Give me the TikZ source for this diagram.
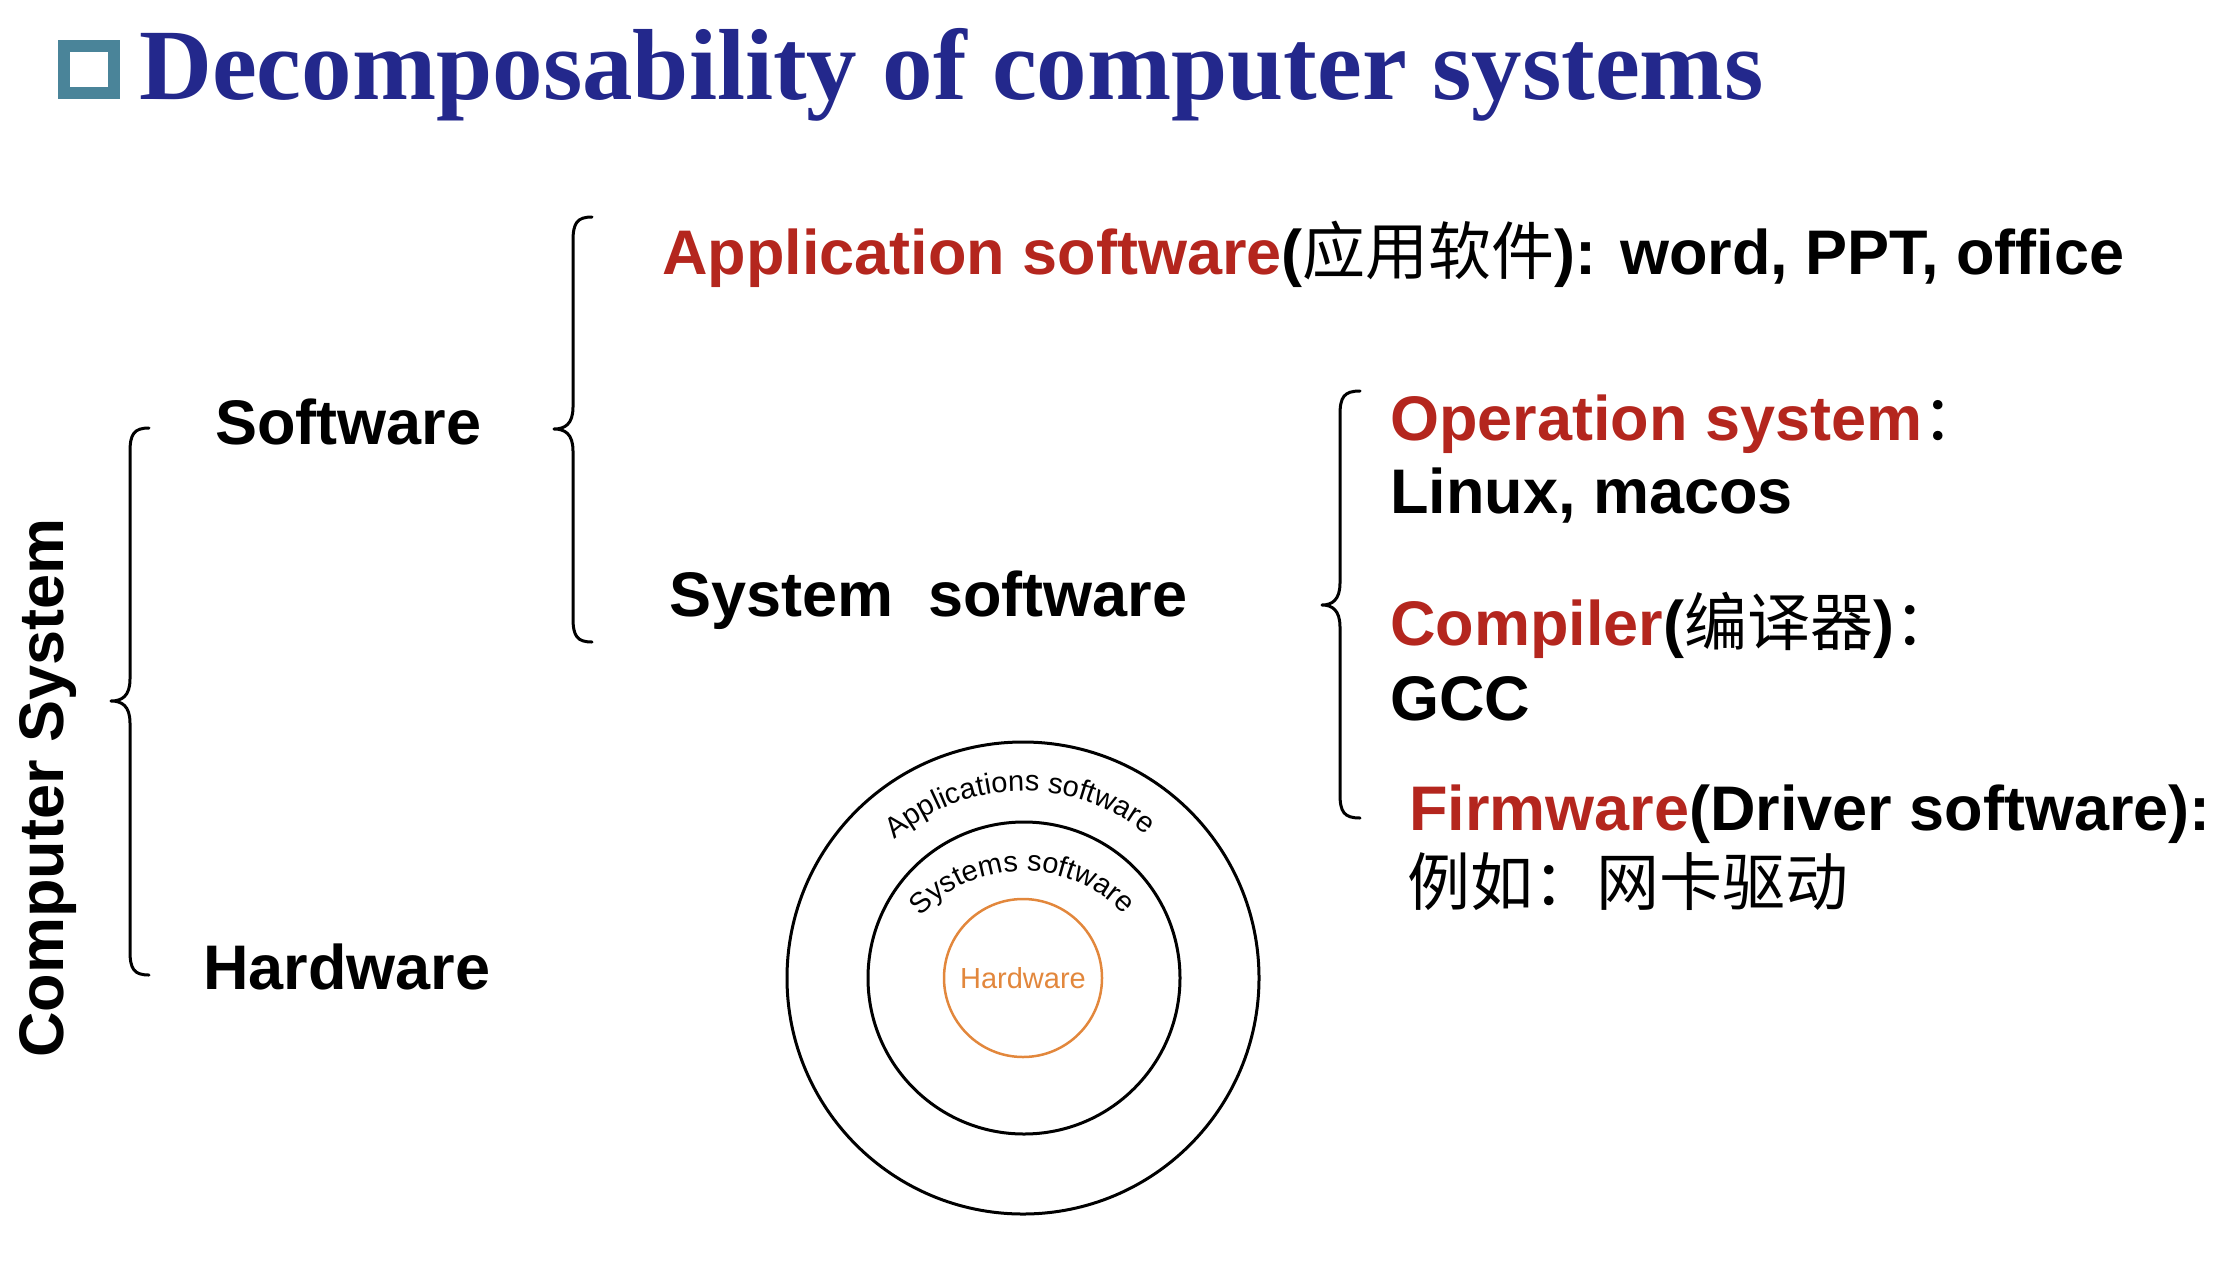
\documentclass[tikz,border=0pt]{standalone}
\usepackage{fontspec}
\setmainfont{Liberation Sans}
\newfontfamily\titlefont{Liberation Serif}
\newfontfamily\cjk{Noto Sans CJK SC}
\usetikzlibrary{decorations.text}
\definecolor{titleblue}{RGB}{35,40,140}
\definecolor{boxteal}{RGB}{74,132,153}
\definecolor{hired}{RGB}{180,38,30}
\definecolor{hworange}{RGB}{226,135,60}
\newcommand\bigtxt{\fontsize{63}{70}\selectfont\bfseries}
\newcommand\ringtxt{\fontsize{29}{30}\selectfont}
\newcommand\curlybrace[6]{% E L T y1 ym y2
  \draw[bracestyle] (#1,#4) .. controls (#2+4,#4) and (#2,#4+6) .. (#2,#4+24)
    -- (#2,#5-22) .. controls (#2,#5-5) and (#2-8,#5) .. (#3,#5)
    .. controls (#2-8,#5) and (#2,#5+5) .. (#2,#5+22)
    -- (#2,#6-24) .. controls (#2,#6-6) and (#2+4,#6) .. (#1,#6);}
\begin{document}
\begin{tikzpicture}[x=1pt,y=-1pt,
  lbl/.style={anchor=base west, inner sep=0pt, font=\bigtxt},
  bracestyle/.style={line width=3pt, line cap=round, line join=round},
  ring/.style={circle, draw=black, line width=3pt, inner sep=0pt}]
\useasboundingbox (0,0) rectangle (2226,1266);

% title
\node[draw=boxteal, line width=12pt, minimum width=50pt, minimum height=47pt, inner sep=0pt] (bullet) at (89,69.5) {};
\node[anchor=base west, inner sep=0pt, text=titleblue, font=\titlefont\fontsize{101}{108}\selectfont\bfseries] (title) at (139,99) {Decomposability of computer systems};

% left column
\node[lbl, rotate=90] (cs) at (63,1058) {Computer System};
\curlybrace{149}{130}{111}{428}{701}{975}
\node[lbl] (sw) at (215,444) {Software};
\node[lbl] (hw) at (203,989) {Hardware};

% software branch
\curlybrace{592}{573}{554}{217}{429}{642}
\node[lbl] (app) at (662,274) {\textcolor{hired}{Application software}({\cjk\mdseries 应用软件}): word, PPT, office};
\node[lbl] (sys) at (669,616) {System\ \ software};

% system software branch
\curlybrace{1360}{1340}{1322}{391}{605}{818}
\node[lbl] (os) at (1390,440) {\textcolor{hired}{Operation system}{\cjk\mdseries ：}};
\node[lbl] (lin) at (1390,513) {Linux, macos};
\node[lbl] (comp) at (1390,645) {\textcolor{hired}{Compiler}({\cjk\mdseries 编译器}){\cjk\mdseries ：}};
\node[lbl] (gcc) at (1390,720) {GCC};
\node[lbl] (fw) at (1409,830) {\textcolor{hired}{Firmware}(Driver software):};
\node[lbl, font=\cjk\fontsize{63}{70}\selectfont] (eg) at (1407,905) {例如：网卡驱动};

% rings
\node[ring, minimum size=472pt] (outer) at (1023,978) {};
\node[ring, minimum size=312pt] (middle) at (1024,978) {};
\node[circle, draw=hworange, line width=2.5pt, inner sep=0pt, minimum size=158pt, text=hworange, font=\ringtxt] (core) at (1023,978) {Hardware};
\path[decorate, decoration={text along path, text align=center, text={|\ringtxt|Applications software}}]
  (1023,987) ++(-131:196) arc[start angle=-131, end angle=-51, radius=196];
\path[decorate, decoration={text along path, text align=center, text={|\ringtxt|Systems software}}]
  (1023,1010) ++(-139:139) arc[start angle=-139, end angle=-42, radius=139];
\end{tikzpicture}
\end{document}
